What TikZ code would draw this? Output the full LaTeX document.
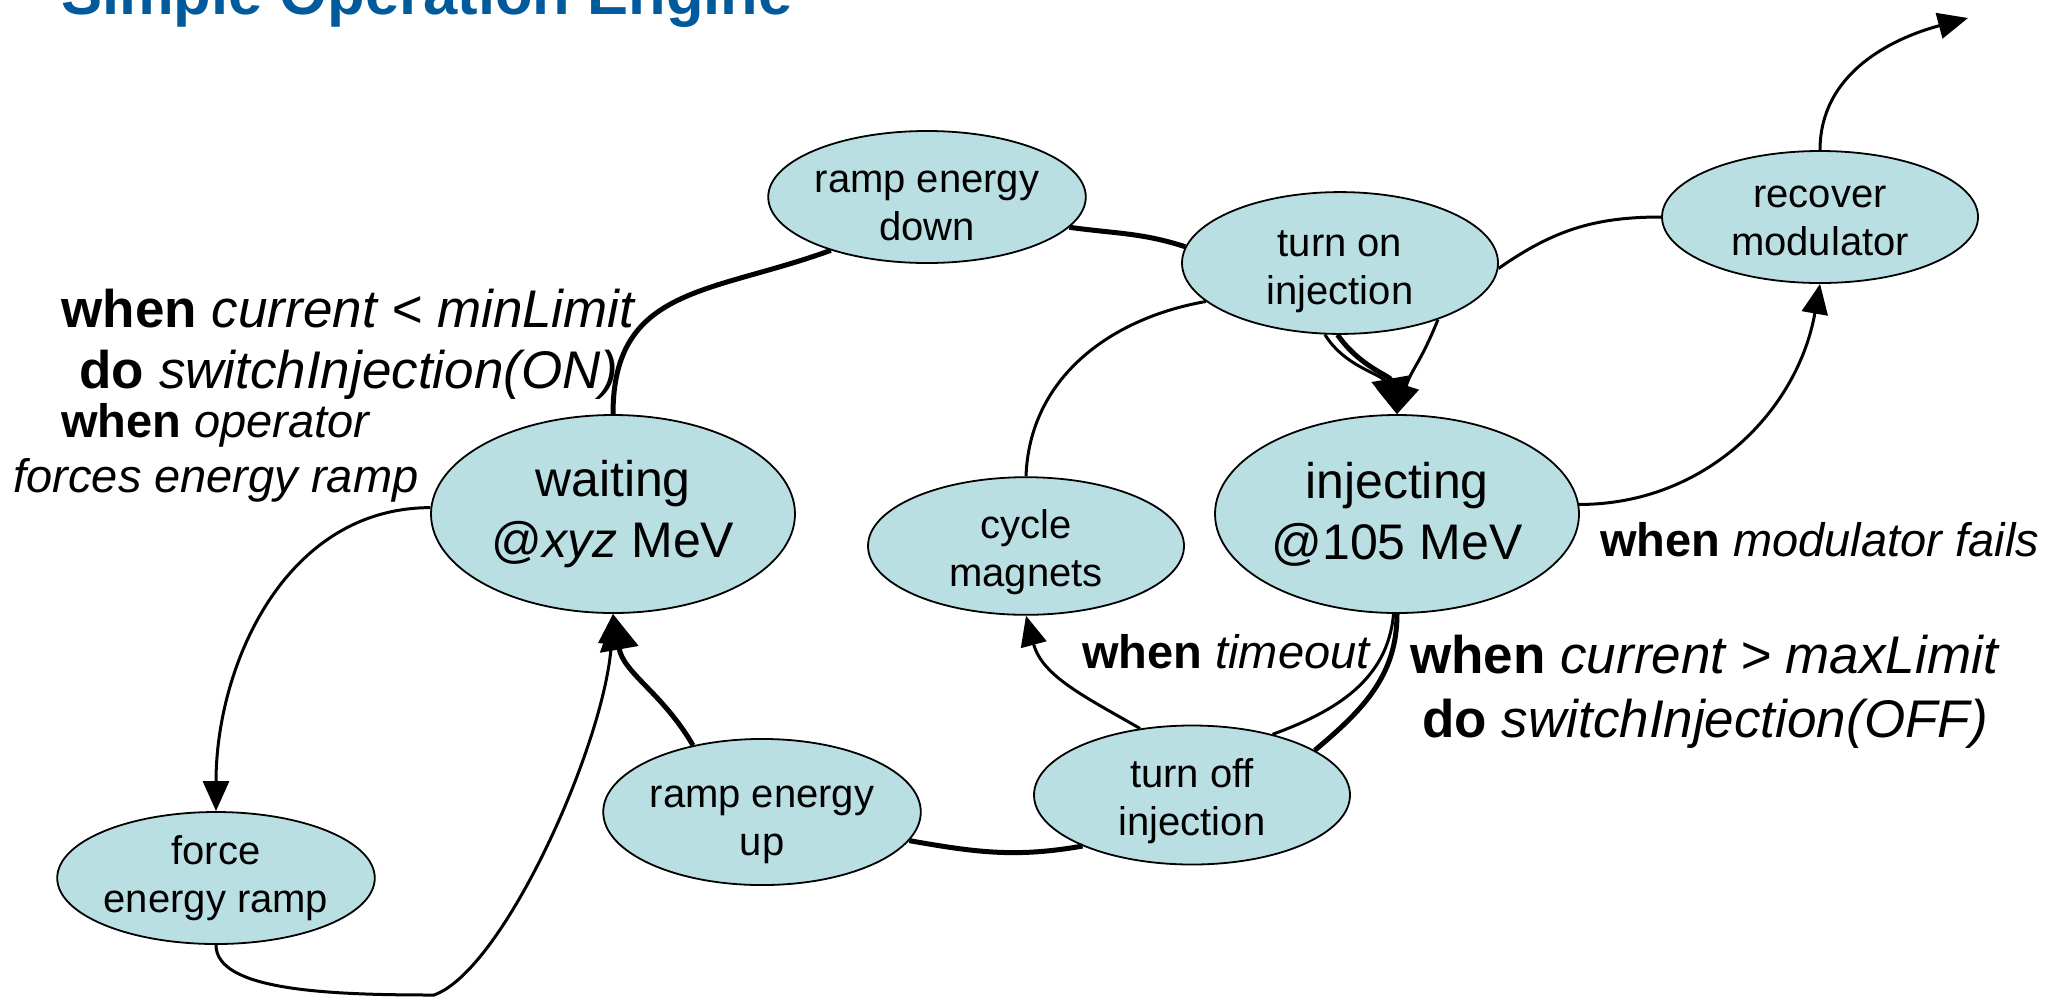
\documentclass[tikz,border=0pt]{standalone}
\usepackage{fontspec}
\setmainfont{Liberation Sans}
\usetikzlibrary{shapes.geometric,arrows.meta}
\definecolor{nodefill}{RGB}{185,223,227}
\definecolor{titleblue}{RGB}{0,90,155}
\newcommand{\nstrut}[1]{\rule{0pt}{#1pt}}
\begin{document}
\begin{tikzpicture}[x=1pt,y=1pt,
  basestate/.style={ellipse, draw, line width=1.8pt, fill=nodefill, inner sep=0pt, align=center},
  state/.style={basestate, minimum width=316pt, minimum height=132pt,
    font=\fontsize{40}{48}\selectfont},
  bigstate/.style={basestate, minimum width=364pt, minimum height=198pt,
    font=\fontsize{50}{61}\selectfont},
  biglabel/.style={inner sep=0pt, anchor=base, font=\fontsize{53}{62}\selectfont},
  smalllabel/.style={inner sep=0pt, anchor=base, font=\fontsize{47}{55}\selectfont},
  thinedge/.style={line width=3pt},
  thickedge/.style={line width=5pt},
  thinarrow/.style={thinedge, -{Triangle[length=30pt,width=26pt]}},
  thickarrow/.style={thickedge, -{Triangle[length=36pt,width=38pt]}}
]
\useasboundingbox (0,0) rectangle (2060,-997);

% title
\node[anchor=base west, inner sep=0pt, text=titleblue,
  font=\bfseries\fontsize{61.5}{70}\selectfont] (title) at (61,-14) {Simple Operation Engine};

% states
\node[state] (rampdown) at (927,-197) {\nstrut{40}ramp energy\\down};
\node[state] (turnon) at (1340,-263) {\nstrut{44}turn on\\injection};
\node[state] (recover) at (1820,-217) {\nstrut{30}recover\\modulator};
\node[bigstate] (waiting) at (613,-514) {waiting\\@\textit{xyz} MeV};
\node[state] (cycle) at (1026,-546) {\nstrut{41}cycle\\magnets};
\node[bigstate] (injecting) at (1397,-514) {injecting\\@105 MeV};
\node[state] (force) at (216,-878) {force\\energy ramp};
\node[state] (rampup) at (762,-812) {\nstrut{47}ramp energy\\up};
\node[state] (turnoff) at (1192,-795) {\nstrut{42}turn off\\injection};
\coordinate (exit) at (1968,-18);
\coordinate (fbot) at (434,-995);

% labels
\node[biglabel] (l1a) at (349,-327) {\textbf{when} \textit{current < minLimit}};
\node[biglabel] (l1b) at (349,-388) {\textbf{do} \textit{switchInjection(ON)}};
\node[smalllabel] (l2a) at (216,-437) {\textbf{when} \textit{operator}};
\node[smalllabel] (l2b) at (216,-492) {\textit{forces energy ramp}};
\node[smalllabel, anchor=base west] (l3) at (1600,-556) {\textbf{when} \textit{modulator fails}};
\node[smalllabel, anchor=base west] (l4) at (1082,-668) {\textbf{when} \textit{timeout}};
\node[biglabel] (l5a) at (1705,-673) {\textbf{when} \textit{current > maxLimit}};
\node[biglabel] (l5b) at (1705,-737) {\textbf{do} \textit{switchInjection(OFF)}};

% thick main cycle
\draw[thickedge] (waiting.90) to[out=90, in=200, looseness=1.2] (rampdown.209);
\draw[thickedge] (rampdown.-12) to[out=-8, in=162] (turnon.174);
\draw[thickarrow] (turnon.-92) to[out=-55, in=100] (injecting.90);
\draw[thickedge] (injecting.-90) to[out=-90, in=40] (turnoff.20);
\draw[thickedge] (turnoff.205) to[out=190, in=-10] (rampup.-11);
\draw[thickarrow] (rampup.136) to[out=120, in=-80] (waiting.-90);

% timeout path
\draw[thinedge] (injecting.-92) to[out=-95, in=20] (turnoff.37);
\draw[thinarrow] (turnoff.128) to[out=150, in=-75] (cycle.-90);
\draw[thinedge] (cycle.90) to[out=88, in=190] (turnon.196);
\draw[thinarrow] (turnon.-102) to[out=-58, in=105] (injecting.90);

% modulator path
\draw[thinarrow] (injecting.3) to[out=0, in=-100] (recover.-90);
\draw[thinedge] (recover.180) to[out=180, in=35] (turnon.-2);
\draw[thinarrow] (turnon.-30) to[out=-112, in=72, looseness=1.2] (injecting.90);
\draw[thinarrow] (recover.90) to[out=90, in=195] (exit);

% forced ramp
\draw[thinarrow] (waiting.178) to[out=180, in=90] (force.90);
\draw[thinarrow] (force.-90) .. controls +(0,-45) and +(-110,0) .. (fbot)
  .. controls +(70,25) and +(-7,-127) .. (waiting.-90);
\end{tikzpicture}
\end{document}
